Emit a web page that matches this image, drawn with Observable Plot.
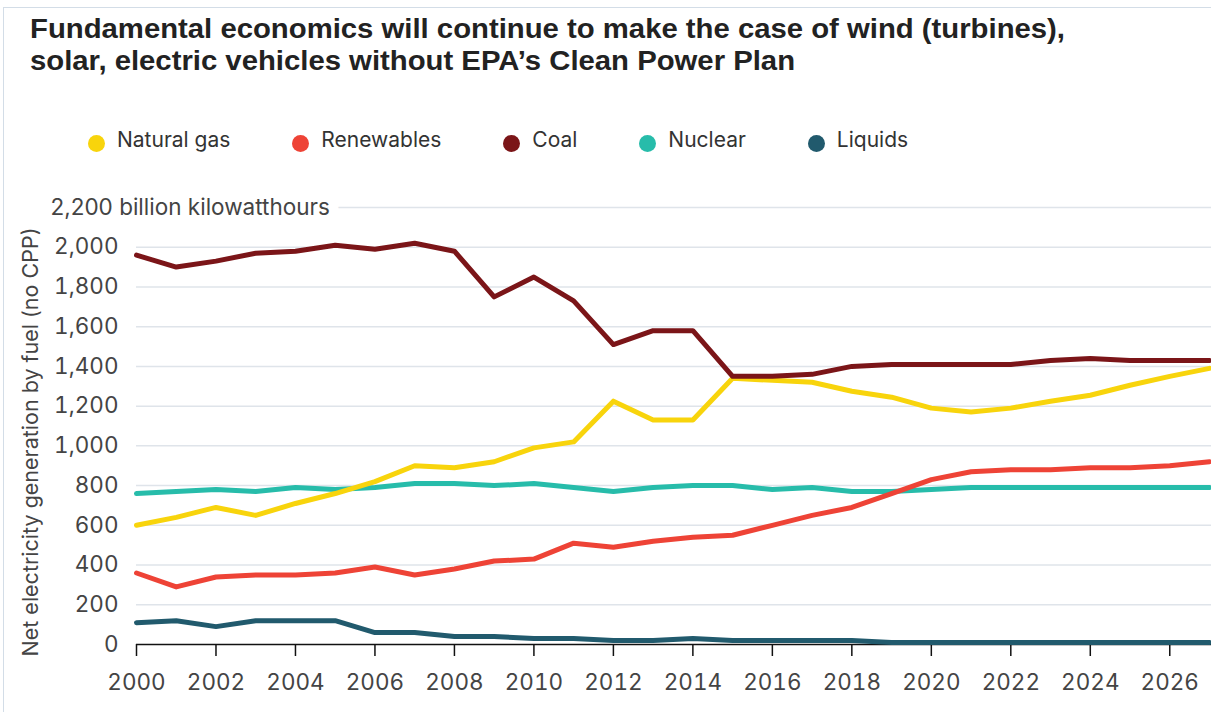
<!DOCTYPE html>
<html>
<head>
<meta charset="utf-8">
<script src="https://cdn.jsdelivr.net/npm/d3@7"></script>
<script src="https://cdn.jsdelivr.net/npm/@observablehq/plot@0.6"></script>
<style>
  html, body { margin: 0; padding: 0; background: #fff; width: 1211px; height: 712px; overflow: hidden; }
  #frame { position: absolute; left: 3px; top: 7px; width: 1300px; height: 800px; border-left: 1.5px solid #d3dde7; border-top: 1.5px solid #d3dde7; }
  #title { position: absolute; left: 30px; top: 13px; font-family: "Liberation Sans", Arial, sans-serif; font-weight: bold; font-size: 27px; line-height: 32px; color: #222; white-space: nowrap; transform-origin: 0 0; }
  #legend { position: absolute; left: 88px; top: 127px; display: flex; align-items: center; gap: 62px; font-family: Inter, sans-serif; font-size: 21px; color: #333; }
  .item { display: flex; align-items: center; gap: 12px; }
  .dot { width: 17px; height: 17px; border-radius: 50%; margin-top: 8px; }
  #chart { position: absolute; left: 0; top: 190px; }
  #chart svg { font-family: Inter, sans-serif; overflow: visible; }
</style>
</head>
<body>
<div id="frame"></div>
<div id="title">Fundamental economics will continue to make the case of wind (turbines),<br>solar, electric vehicles without EPA’s Clean Power Plan</div>
<div id="legend"></div>
<div id="chart"></div>
<script>
const years = [2000, 2001, 2002, 2003, 2004, 2005, 2006, 2007, 2008, 2009, 2010, 2011, 2012, 2013,
               2014, 2015, 2016, 2017, 2018, 2019, 2020, 2021, 2022, 2023, 2024, 2025, 2026, 2027];
const fuels = ["Natural gas", "Renewables", "Coal", "Nuclear", "Liquids"];
const colors = ["#f8d40c", "#ee4336", "#7b1518", "#27bcaa", "#215a6d"];
const naturalGas = [600, 640, 690, 650, 710, 760, 820, 900, 890, 920, 990, 1020, 1225, 1130,
                    1130, 1340, 1330, 1320, 1275, 1245, 1190, 1170, 1190, 1225, 1255, 1305, 1350, 1390];
const renewables = [360, 290, 340, 350, 350, 360, 390, 350, 380, 420, 430, 510, 490, 520,
                    540, 550, 600, 650, 690, 760, 830, 870, 880, 880, 890, 890, 900, 920];
const coal = [1960, 1900, 1930, 1970, 1980, 2010, 1990, 2020, 1980, 1750, 1850, 1730, 1510, 1580,
              1580, 1350, 1350, 1360, 1400, 1410, 1410, 1410, 1410, 1430, 1440, 1430, 1430, 1430];
const nuclear = [760, 770, 780, 770, 790, 780, 790, 810, 810, 800, 810, 790, 770, 790,
                 800, 800, 780, 790, 770, 770, 780, 790, 790, 790, 790, 790, 790, 790];
const liquids = [110, 120, 90, 120, 120, 120, 60, 60, 40, 40, 30, 30, 20, 20,
                 30, 20, 20, 20, 20, 10, 10, 10, 10, 10, 10, 10, 10, 10];
const xTicks = [2000, 2002, 2004, 2006, 2008, 2010, 2012, 2014, 2016, 2018, 2020, 2022, 2024, 2026];
const yTicks = [0, 200, 400, 600, 800, 1000, 1200, 1400, 1600, 1800, 2000];
const gridTicks = [200, 400, 600, 800, 1000, 1200, 1400, 1600, 1800, 2000, 2200];
const topTick = 2200;
const unitLabel = "billion kilowatthours";
const yLabel = "Net electricity generation by fuel (no CPP)";

const seriesValues = [naturalGas, renewables, coal, nuclear, liquids];
const rows = [];
fuels.forEach((f, i) => years.forEach((y, j) => rows.push({fuel: f, year: y, value: seriesValues[i][j]})));
const drawOrder = ["Liquids", "Nuclear", "Natural gas", "Renewables", "Coal"];
rows.sort((a, b) => drawOrder.indexOf(a.fuel) - drawOrder.indexOf(b.fuel));

// legend
const legend = document.getElementById("legend");
fuels.forEach((f, i) => {
  const it = document.createElement("div"); it.className = "item";
  const d = document.createElement("div"); d.className = "dot"; d.style.background = colors[i];
  const t = document.createElement("span"); t.textContent = f;
  it.appendChild(d); it.appendChild(t); legend.appendChild(it);
});

const fmt = d3.format(",");
const chart = Plot.plot({
  width: 1211,
  height: 522,
  marginLeft: 136,
  marginRight: 0,
  marginTop: 17,
  marginBottom: 68,
  x: {domain: [2000, 2027.05]},
  y: {domain: [0, 2200]},
  color: {domain: fuels, range: colors},
  marks: [
    Plot.ruleY(gridTicks, {stroke: "#dfe4ea", strokeWidth: 1.5}),
    Plot.axisY(yTicks, {tickSize: 0, tickPadding: 18, tickFormat: fmt, fontSize: 22.5, fill: "#444", label: null}),
    Plot.text([topTick], {y: d => d, frameAnchor: "left", textAnchor: "start", dx: -86,
      text: d => fmt(d) + " " + unitLabel, fontSize: 22.5, fill: "#444", stroke: "white", strokeWidth: 20}),
    Plot.text([yLabel], {frameAnchor: "left", textAnchor: "middle", rotate: -90, dx: -105, dy: 16, text: d => d, fontSize: 21.5, fill: "#444"}),
    Plot.ruleY([0], {stroke: "#111", strokeWidth: 1.5}),
    Plot.axisX(xTicks, {tickSize: 12, tickPadding: 18, tickFormat: d => String(d), fontSize: 22.5, label: null, stroke: "#111", strokeWidth: 1.5, fill: "#444"}),
    Plot.line(rows, {x: "year", y: "value", z: "fuel", stroke: "fuel", strokeWidth: 5, strokeLinejoin: "round"})
  ]
});
document.getElementById("chart").appendChild(chart);

// fit title width
const title = document.getElementById("title");
const w = title.getBoundingClientRect().width;
title.style.transform = `scaleX(${1035 / w})`;
</script>
</body>
</html>
